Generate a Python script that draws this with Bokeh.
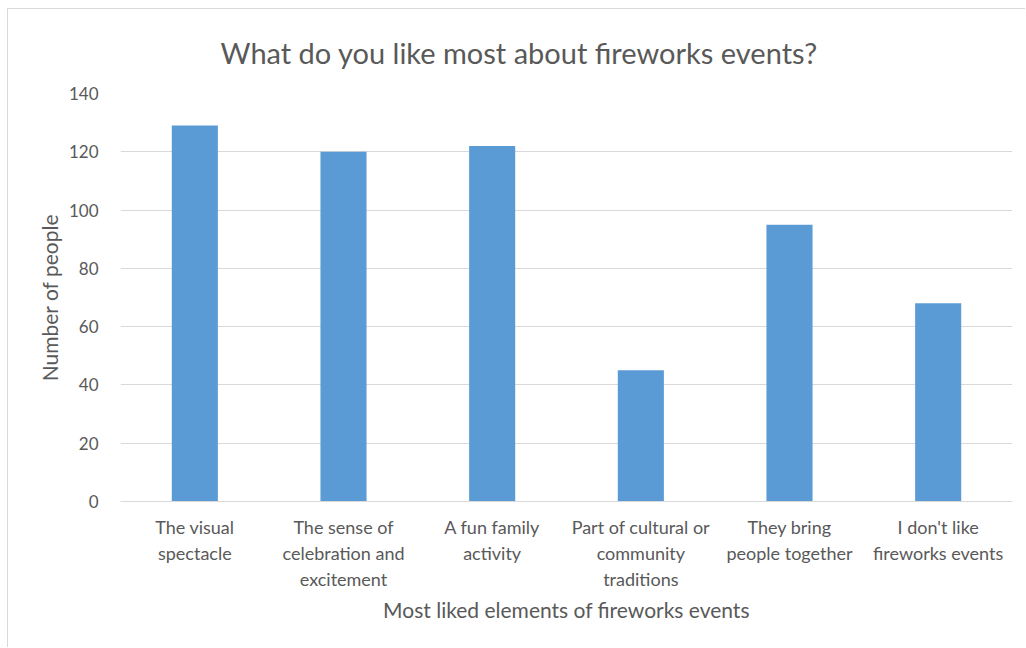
from bokeh.plotting import figure
from bokeh.models import ColumnDataSource, FixedTicker, Range1d
from bokeh.embed import file_html
from bokeh.resources import INLINE

categories = [
    "The visual\nspectacle",
    "The sense of\ncelebration and\nexcitement",
    "A fun family\nactivity",
    "Part of cultural or\ncommunity\ntraditions",
    "They bring\npeople together",
    "I don't like\nfireworks events",
]
counts = [129, 120, 122, 45, 95, 68]
y_ticks = [0, 20, 40, 60, 80, 100, 120, 140]
title_text = "What do you like most about fireworks events?"

FONT = "Lato"
TXT = "#595959"
GRID = "#d9d9d9"

src = ColumnDataSource(data=dict(cat=categories, n=counts))

p = figure(
    x_range=categories,
    y_range=Range1d(0, 140),
    width=1018, height=639,
    margin=(8, 0, 0, 7),
    output_backend="svg",
    toolbar_location=None,
    min_border_left=112, min_border_right=14,
    min_border_top=84, min_border_bottom=147,
    title=title_text,
)
p.styles = {"border-left": f"1px solid {GRID}", "border-top": f"1px solid {GRID}"}

p.vbar(x="cat", top="n", width=0.31, source=src, fill_color="#5b9bd5", line_color=None)

p.title.align = "left"
p.title.offset = 100
p.title.vertical_align = "top"
p.title.text_font = FONT
p.title.text_font_style = "normal"
p.title.text_font_size = "29px"
p.title.text_color = TXT
p.title.standoff = 44

p.outline_line_color = None
p.xgrid.grid_line_color = None
p.ygrid.grid_line_color = GRID
p.ygrid.grid_line_width = 1

p.yaxis.ticker = FixedTicker(ticks=y_ticks)
p.yaxis.axis_line_color = None
p.yaxis.major_tick_line_color = None
p.yaxis.minor_tick_line_color = None
p.yaxis.major_label_text_font = FONT
p.yaxis.major_label_text_font_size = "17px"
p.yaxis.major_label_text_color = TXT
p.yaxis.major_label_standoff = 16
p.yaxis.axis_label = "Number of people"
p.yaxis.axis_label_text_font = FONT
p.yaxis.axis_label_text_font_size = "21px"
p.yaxis.axis_label_text_font_style = "normal"
p.yaxis.axis_label_text_color = TXT
p.yaxis.axis_label_standoff = 4

p.xaxis.axis_line_color = GRID
p.xaxis.axis_line_width = 1
p.xaxis.major_tick_line_color = None
p.xaxis.minor_tick_line_color = None
p.xaxis.major_label_text_font = FONT
p.xaxis.major_label_text_font_size = "18px"
p.xaxis.major_label_text_color = TXT
p.xaxis.major_label_standoff = 8
p.xaxis.axis_label = "Most liked elements of fireworks events"
p.xaxis.axis_label_text_font = FONT
p.xaxis.axis_label_text_font_size = "21px"
p.xaxis.axis_label_text_font_style = "normal"
p.xaxis.axis_label_text_color = TXT
p.xaxis.axis_label_standoff = 4

p.x_range.range_padding = 0.0

open("out.html", "w").write(file_html(p, INLINE))
